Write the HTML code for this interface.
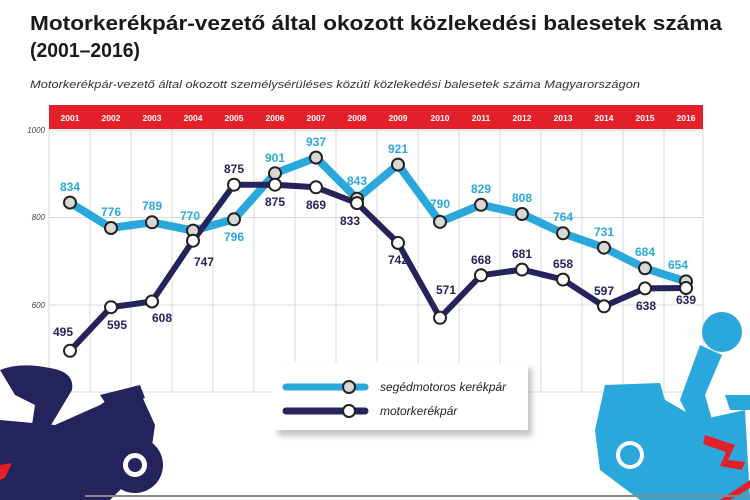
<!DOCTYPE html>
<html><head><meta charset="utf-8"><style>
body{margin:0;background:#fff;}
svg{display:block;font-family:"Liberation Sans",sans-serif;}
</style></head><body>
<svg width="750" height="500" viewBox="0 0 750 500">
<text x="30" y="30" font-size="20" font-weight="bold" fill="#1a1a1a" textLength="692" lengthAdjust="spacingAndGlyphs">Motorkerékpár-vezető által okozott közlekedési balesetek száma</text>
<text x="30" y="57" font-size="20" font-weight="bold" fill="#1a1a1a" textLength="110" lengthAdjust="spacingAndGlyphs">(2001–2016)</text>
<text x="30" y="88" font-size="11" font-style="italic" fill="#333" textLength="610" lengthAdjust="spacingAndGlyphs">Motorkerékpár-vezető által okozott személysérüléses közúti közlekedési balesetek száma Magyarországon</text>
<rect x="49" y="105" width="654" height="24" fill="#e3202a"/>
<g stroke="#d8d8d8" stroke-width="1">
<line x1="49" y1="130" x2="703" y2="130"/><line x1="49" y1="217.5" x2="703" y2="217.5"/><line x1="49" y1="305" x2="703" y2="305"/><line x1="49" y1="392" x2="703" y2="392"/>
<line x1="49" y1="129" x2="49" y2="392"/><line x1="90" y1="129" x2="90" y2="392"/><line x1="131" y1="129" x2="131" y2="392"/><line x1="172" y1="129" x2="172" y2="392"/><line x1="213" y1="129" x2="213" y2="392"/><line x1="254" y1="129" x2="254" y2="392"/><line x1="295" y1="129" x2="295" y2="392"/><line x1="336" y1="129" x2="336" y2="392"/><line x1="377" y1="129" x2="377" y2="392"/><line x1="418" y1="129" x2="418" y2="392"/><line x1="459" y1="129" x2="459" y2="392"/><line x1="500" y1="129" x2="500" y2="392"/><line x1="541" y1="129" x2="541" y2="392"/><line x1="582" y1="129" x2="582" y2="392"/><line x1="623" y1="129" x2="623" y2="392"/><line x1="664" y1="129" x2="664" y2="392"/><line x1="703" y1="129" x2="703" y2="392"/>
</g>
<g font-size="8" font-style="italic" fill="#444" text-anchor="end">
<text x="45" y="133">1000</text><text x="45" y="220">800</text><text x="45" y="308">600</text><text x="45" y="395">400</text></g>
<g font-size="8.5" font-weight="bold" fill="#fff" text-anchor="middle">
<text x="70" y="121">2001</text><text x="111" y="121">2002</text><text x="152" y="121">2003</text><text x="193" y="121">2004</text><text x="234" y="121">2005</text><text x="275" y="121">2006</text><text x="316" y="121">2007</text><text x="357" y="121">2008</text><text x="398" y="121">2009</text><text x="440" y="121">2010</text><text x="481" y="121">2011</text><text x="522" y="121">2012</text><text x="563" y="121">2013</text><text x="604" y="121">2014</text><text x="645" y="121">2015</text><text x="686" y="121">2016</text></g>
<polyline fill="none" stroke="#2aa8dc" stroke-width="8" stroke-linejoin="round" points="70,202.6 111,228 152,222.3 193,230.6 234,219.3 275,173.3 316,157.6 357,198.7 398,164.6 440,221.9 481,204.8 522,214 563,233.3 604,247.7 645,268.3 686,281.4"/>
<polyline fill="none" stroke="#25235c" stroke-width="6" stroke-linejoin="round" points="70,350.8 111,307.2 152,301.5 193,240.7 234,184.7 275,184.7 316,187.3 357,203.1 398,242.9 440,317.8 481,275.3 522,269.6 563,279.6 604,306.3 645,288.4 686,288"/>
<g fill="#d8d8d4" stroke="#222" stroke-width="2">
<circle cx="70" cy="202.6" r="6"/><circle cx="111" cy="228" r="6"/><circle cx="152" cy="222.3" r="6"/><circle cx="193" cy="230.6" r="6"/><circle cx="234" cy="219.3" r="6"/><circle cx="275" cy="173.3" r="6"/><circle cx="316" cy="157.6" r="6"/><circle cx="357" cy="198.7" r="6"/><circle cx="398" cy="164.6" r="6"/><circle cx="440" cy="221.9" r="6"/><circle cx="481" cy="204.8" r="6"/><circle cx="522" cy="214" r="6"/><circle cx="563" cy="233.3" r="6"/><circle cx="604" cy="247.7" r="6"/><circle cx="645" cy="268.3" r="6"/><circle cx="686" cy="281.4" r="6"/></g>
<g fill="#fff" stroke="#222" stroke-width="2">
<circle cx="70" cy="350.8" r="6"/><circle cx="111" cy="307.2" r="6"/><circle cx="152" cy="301.5" r="6"/><circle cx="193" cy="240.7" r="6"/><circle cx="234" cy="184.7" r="6"/><circle cx="275" cy="184.7" r="6"/><circle cx="316" cy="187.3" r="6"/><circle cx="357" cy="203.1" r="6"/><circle cx="398" cy="242.9" r="6"/><circle cx="440" cy="317.8" r="6"/><circle cx="481" cy="275.3" r="6"/><circle cx="522" cy="269.6" r="6"/><circle cx="563" cy="279.6" r="6"/><circle cx="604" cy="306.3" r="6"/><circle cx="645" cy="288.4" r="6"/><circle cx="686" cy="288" r="6"/></g>
<g font-size="12" font-weight="bold" fill="#2aa8dc" text-anchor="middle">
<text x="70" y="191">834</text><text x="111" y="216">776</text><text x="152" y="210">789</text><text x="190" y="220">770</text><text x="234" y="241">796</text><text x="275" y="162">901</text><text x="316" y="146">937</text><text x="357" y="185">843</text><text x="398" y="153">921</text><text x="440" y="208">790</text><text x="481" y="193">829</text><text x="522" y="202">808</text><text x="563" y="221">764</text><text x="604" y="236">731</text><text x="645" y="256">684</text><text x="678" y="269">654</text></g>
<g font-size="12" font-weight="bold" fill="#25235c" text-anchor="middle">
<text x="63" y="336">495</text><text x="117" y="329">595</text><text x="162" y="322">608</text><text x="204" y="266">747</text><text x="234" y="173">875</text><text x="275" y="206">875</text><text x="316" y="209">869</text><text x="350" y="225">833</text><text x="398" y="264">742</text><text x="446" y="294">571</text><text x="481" y="264">668</text><text x="522" y="258">681</text><text x="563" y="268">658</text><text x="604" y="295">597</text><text x="646" y="310">638</text><text x="686" y="304">639</text></g>
<rect x="278" y="368" width="254" height="68" fill="#888" opacity="0.5" filter="blur(3px)"/>
<rect x="272" y="363" width="256" height="67" fill="#fff"/>
<line x1="286" y1="387" x2="365" y2="387" stroke="#2aa8dc" stroke-width="7" stroke-linecap="round"/>
<circle cx="349" cy="387" r="6" fill="#d8d8d4" stroke="#222" stroke-width="2"/>
<line x1="286" y1="411" x2="365" y2="411" stroke="#25235c" stroke-width="7" stroke-linecap="round"/>
<circle cx="349" cy="411" r="6" fill="#fff" stroke="#222" stroke-width="2"/>
<text x="380" y="391" font-size="12" font-style="italic" fill="#222">segédmotoros kerékpár</text>
<text x="380" y="415" font-size="12" font-style="italic" fill="#222">motorkerékpár</text>
<g fill="#25235c">
<path d="M0,370 Q20,362 50,368 Q75,372 72,390 L48,430 L80,455 L60,462 L30,438 L35,405 L15,395 Z"/>
<path d="M0,420 L55,425 L100,405 L115,395 L140,392 L155,425 L150,460 L110,500 L0,500 Z"/>
<circle cx="135" cy="465" r="28"/>
<path d="M100,395 L140,385 L145,398 L110,410 Z"/>
</g>
<circle cx="135" cy="465" r="12" fill="#fff"/><circle cx="135" cy="465" r="7" fill="#25235c"/>
<path d="M0,465 L12,463 L5,478 L0,480 Z" fill="#e3202a"/>
<g fill="#2aa8dc">
<circle cx="722" cy="332" r="20"/>
<path d="M700,345 L722,355 L705,395 L715,430 L700,440 L680,400 Z"/>
<path d="M605,385 L660,383 L665,400 L700,420 L745,410 L750,500 L640,500 L600,470 L595,430 Z"/>
<path d="M725,395 L750,395 L750,410 L730,410 Z"/>
</g>
<circle cx="630" cy="455" r="14" fill="#fff"/><circle cx="630" cy="455" r="10" fill="#2aa8dc"/>
<path d="M705,435 L735,445 L728,460 L745,462 L742,470 L720,466 L726,452 L703,444 Z" fill="#e3202a"/>
<path d="M720,500 L750,480 L750,488 L730,500 Z" fill="#e3202a"/>
<line x1="85" y1="496" x2="750" y2="496" stroke="#888" stroke-width="2"/>
</svg>
</body></html>
